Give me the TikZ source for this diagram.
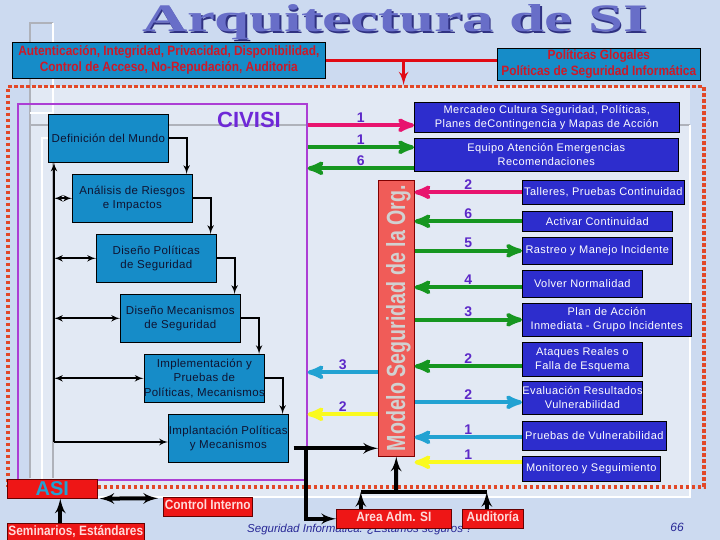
\documentclass[tikz,border=0pt]{standalone}
\usepackage{fontspec}
\setmainfont{Liberation Sans}
\newfontfamily\titlefont{Liberation Serif}
\usetikzlibrary{arrows, positioning}

\definecolor{bgblue}{RGB}{204,218,240}
\definecolor{bglight}{RGB}{226,233,244}
\definecolor{tealbox}{RGB}{22,140,200}
\definecolor{boxnavy}{RGB}{45,45,205}
\definecolor{boxred}{RGB}{238,22,22}
\definecolor{modelred}{RGB}{240,92,88}
\definecolor{dotred}{RGB}{226,72,40}
\definecolor{civpurple}{RGB}{172,62,212}
\definecolor{civtitle}{RGB}{110,40,215}
\definecolor{numpurple}{RGB}{92,40,200}
\definecolor{lnmagenta}{RGB}{232,20,110}
\definecolor{lngreen}{RGB}{22,150,32}
\definecolor{lnteal}{RGB}{34,162,210}
\definecolor{lnyellow}{RGB}{250,250,30}
\definecolor{lnred}{RGB}{225,10,20}
\definecolor{topred}{RGB}{205,25,40}
\definecolor{pinktxt}{RGB}{255,218,218}
\definecolor{civtext}{RGB}{15,20,50}
\definecolor{titleblue}{RGB}{104,110,200}
\definecolor{titledark}{RGB}{48,50,130}
\definecolor{footblue}{RGB}{40,40,150}
\definecolor{frgray}{RGB}{175,178,186}

\newcommand{\narrowtxt}[2][0.88]{\scalebox{#1}[1]{\begin{tabular}{@{}c@{}}#2\end{tabular}}}

\tikzset{node distance=60pt, % CIVISI boxes step down by this much
every node/.style={inner sep=0pt},
civbox/.style={ % boxes of the CIVISI cycle
draw=black, semithick, fill=tealbox, text=civtext,
minimum width=120pt, minimum height=48pt, align=center,
font=\fontsize{11.5}{14.5}\selectfont\addfontfeature{LetterSpace=3}},
navybox/.style={ % boxes of the org. model
draw=black, semithick, fill=boxnavy, text=white, align=center,
anchor=north west, font=\fontsize{11}{14}\selectfont\addfontfeature{LetterSpace=4}},
topbox/.style={draw=black, semithick, fill=tealbox, text=topred,
anchor=north west, font=\fontsize{13.5}{16}\bfseries},
redbox/.style={draw=black!60!red, semithick, fill=boxred, text=pinktxt,
anchor=north west, font=\fontsize{13.5}{14}\bfseries},
colarr/.style={line width=4pt, >=stealth'},
mgarr/.style={colarr, draw=lnmagenta},
grarr/.style={colarr, draw=lngreen},
tlarr/.style={colarr, draw=lnteal},
ylarr/.style={colarr, draw=lnyellow},
thinblk/.style={line width=2pt, >=latex'},
thkblk/.style={line width=4pt, >=latex'},
redline/.style={line width=3.5pt, draw=lnred, >=latex'},
numlbl/.style={above=1pt, font=\fontsize{14}{14}\bfseries, text=numpurple},
frline/.style={line width=2.5pt}}

\begin{document}
\begin{tikzpicture}[x=1pt, y=-1pt]

    \fill[bgblue] (0,0) rectangle (720,540);
    \useasboundingbox (0,0) rectangle (720,540);
    \fill[bglight] (30,86) rectangle (690,497);

    % template frame lines
    \draw[frline, frgray] (30,478) -- (30,23) -- (53,23);
    \draw[frline, white] (53,23) -- (53,113) -- (30,113);
    \draw[frline, frgray] (30,125) -- (690,125);
    \draw[frline, white] (690,125) -- (690,497) -- (42,497) -- (42,138) -- (48,138);
    \draw[frline, frgray] (53,162) -- (53,478);

    \node[draw=dotred, line width=3.5pt, dash pattern=on 3.5pt off 2.5pt, anchor=north west,
          minimum width=696pt, minimum height=400pt] (outer) at (6,85) {};
    \node[draw=civpurple, line width=1.6pt, anchor=north west,
          minimum width=289pt, minimum height=376pt] (civframe) at (17,103) {};

    % title
    \node[anchor=base, text=titledark] (titleshadow) at (396.5,33.5)
        {\resizebox{505pt}{27pt}{\titlefont\bfseries Arquitectura de SI}};
    \node[anchor=base, text=titleblue] (title) at (395,32)
        {\resizebox{505pt}{27pt}{\titlefont\bfseries Arquitectura de SI}};

    \node[topbox, minimum width=313pt, minimum height=36pt] (auth) at (12,42)
        {\narrowtxt{Autenticación, Integridad, Privacidad, Disponibilidad,\\ Control de Acceso, No-Repudación, Auditoria}};
    \node[topbox, minimum width=203pt, minimum height=30pt] (pol) at (497,48)
        {\narrowtxt{Políticas Glogales\\ Políticas de Seguridad Informática}};

    \coordinate (redjoin) at ([xshift=78pt]auth.east);
    \draw[redline] (auth.east) -- (auth.east -| pol.west);
    \draw[redline,->] (redjoin) -- (redjoin |- outer.north);

    % CIVISI
    \node[font=\fontsize{22}{22}\bfseries, text=civtitle] (civlbl) at (249,120) {CIVISI};
    \node[civbox, anchor=north west] (def) at (48,114) {Definición del Mundo};
    \node[civbox, below of=def, xshift=24pt] (ana) {Análisis de Riesgos\\e Impactos};
    \node[civbox, below of=ana, xshift=24pt] (dpol) {Diseño Políticas\\de Seguridad};
    \node[civbox, below of=dpol, xshift=24pt] (dmec) {Diseño Mecanismos\\de Seguridad};
    \node[civbox, below of=dmec, xshift=24pt] (impl) {Implementación y\\Pruebas de\\Políticas, Mecanismos};
    \node[civbox, below of=impl, xshift=24pt] (ipl) {Implantación Políticas\\y Mecanismos};

    \draw[thinblk,->] (def.east) -| ([xshift=-6pt]ana.north east);
    \draw[thinblk,->] (ana.east) -| ([xshift=-6pt]dpol.north east);
    \draw[thinblk,->] (dpol.east) -| ([xshift=-6pt]dmec.north east);
    \draw[thinblk,->] (dmec.east) -| ([xshift=-6pt]impl.north east);
    \draw[thinblk,->] (impl.east) -| ([xshift=-6pt]ipl.north east);

    \coordinate (bus) at (54,442);
    \draw[thinblk,->] (bus) -- (bus |- def.south);
    \draw[thinblk,->] (bus) -- (bus -| ipl.west);
    \draw[thinblk,<->] (bus |- ana.west) -- (ana.west);
    \draw[thinblk,<->] (bus |- dpol.west) -- (dpol.west);
    \draw[thinblk,<->] (bus |- dmec.west) -- (dmec.west);
    \draw[thinblk,<->] (bus |- impl.west) -- (impl.west);

    % Modelo de seguridad
    \node[draw=black!50!red, semithick, fill=modelred, anchor=north west,
          minimum width=36pt, minimum height=276pt] (model) at (378,180) {};
    \node[text=black!18, font=\bfseries] (modellbl) at ([xshift=2pt]model.center)
        {\rotatebox{90}{\resizebox{266pt}{19pt}{Modelo Seguridad de la Org.}}};

    \node[navybox, minimum width=265pt, minimum height=30pt] (merc) at (414,102)
        {Mercadeo Cultura Seguridad, Políticas,\\Planes deContingencia y Mapas de Acción};
    \node[navybox, minimum width=264pt, minimum height=33pt] (equ) at (414,138)
        {Equipo Atención Emergencias\\Recomendaciones};

    \node[navybox, minimum width=162pt, minimum height=24pt] (tal) at (522,180) {Talleres, Pruebas Continuidad};
    \node[navybox, minimum width=150pt, minimum height=20pt] (act) at (522,211) {Activar Continuidad};
    \node[navybox, minimum width=150pt, minimum height=27pt] (ras) at (522,237) {Rastreo y Manejo Incidente};
    \node[navybox, minimum width=120pt, minimum height=27pt] (vol) at (522,270) {Volver Normalidad};
    \node[navybox, minimum width=169pt, minimum height=33pt] (pla) at (522,303) {Plan de Acción\\Inmediata - Grupo Incidentes};
    \node[navybox, minimum width=120pt, minimum height=34pt] (ata) at (522,342) {Ataques Reales o\\Falla de Esquema};
    \node[navybox, minimum width=120pt, minimum height=33pt] (eva) at (522,381) {Evaluación Resultados\\Vulnerabilidad};
    \node[navybox, minimum width=144pt, minimum height=29pt] (pru) at (522,421) {Pruebas de Vulnerabilidad};
    \node[navybox, minimum width=138pt, minimum height=25pt] (mon) at (522,456) {Monitoreo y Seguimiento};

    \draw[mgarr,<-] ([yshift=-8pt]merc.west) coordinate (mercin) -- (mercin -| civframe.east) node[numlbl, midway] {1};
    \draw[grarr,<-] ([yshift=7.5pt]equ.west) coordinate (equin) -- (equin -| civframe.east) node[numlbl, midway] {1};
    \draw[grarr,->] ([yshift=-13.5pt]equ.west) coordinate (equout) -- (equout -| civframe.east) node[numlbl, midway] {6};
    \draw[tlarr,->] ([yshift=-54pt]model.west) coordinate (mod3) -- (mod3 -| civframe.east) node[numlbl, midway] {3};
    \draw[ylarr,->] ([yshift=-96pt]model.west) coordinate (mod2) -- (mod2 -| civframe.east) node[numlbl, midway] {2};

    \draw[mgarr,->] (tal.west) -- (tal.west -| model.east) node[numlbl, midway] {2};
    \draw[grarr,->] (act.west) -- (act.west -| model.east) node[numlbl, midway] {6};
    \draw[grarr,<-] (ras.west) -- (ras.west -| model.east) node[numlbl, midway] {5};
    \draw[grarr,->] ([yshift=-3.5pt]vol.west) coordinate (volin) -- (volin -| model.east) node[numlbl, midway] {4};
    \draw[grarr,<-] (pla.west) -- (pla.west -| model.east) node[numlbl, midway] {3};
    \draw[grarr,->] ([yshift=-7pt]ata.west) coordinate (atain) -- (atain -| model.east) node[numlbl, midway] {2};
    \draw[tlarr,<-] ([yshift=-4.5pt]eva.west) coordinate (evaout) -- (evaout -| model.east) node[numlbl, midway] {2};
    \draw[tlarr,->] ([yshift=-1.5pt]pru.west) coordinate (pruin) -- (pruin -| model.east) node[numlbl, midway] {1};
    \draw[ylarr,->] ([yshift=6.5pt]mon.west) coordinate (monin) -- (monin -| model.east) node[numlbl, midway] {1};

    % bottom row
    \node[font=\fontsize{11.5}{12}\itshape, text=footblue, anchor=base west] (foot) at (247,532)
        {Seguridad Informática: ¿Estamos seguros ?};
    \node[font=\fontsize{12}{12}\itshape, text=footblue] (pgnum) at (677,527) {66};

    \node[redbox, minimum width=90pt, minimum height=19pt, text=lnteal, font=\fontsize{20}{20}\bfseries] (asi) at (7,479) {ASI};
    \node[redbox, minimum width=89pt, minimum height=19pt] (ctrl) at (163,497) {\narrowtxt{Control Interno}};
    \node[redbox, minimum width=137pt, minimum height=19pt] (sem) at (7,523) {\narrowtxt{Seminarios, Estándares}};
    \node[redbox, minimum width=115pt, minimum height=19pt] (area) at (336,509) {\narrowtxt{Area Adm. SI}};
    \node[redbox, minimum width=61pt, minimum height=19pt] (aud) at (462,509) {\narrowtxt{Auditoría}};

    \draw[thkblk,<->] ([xshift=2pt]asi.south east) -- ([xshift=-5pt,yshift=8.5pt]ctrl.west);
    \draw[thkblk,->] ([xshift=-15.5pt]sem.north) -- ([xshift=8pt]asi.south);

    \coordinate (split) at ([xshift=17pt,yshift=-10pt]ipl.east);
    \draw[thkblk,->] ([xshift=5pt,yshift=-10pt]ipl.east) -- (split -| model.west);
    \draw[thkblk,->] (split) |- (area.west);

    \coordinate (admbus) at (396,492);
    \coordinate (areaup) at ([xshift=-33pt]area.north);
    \coordinate (audup) at ([xshift=-6pt]aud.north);
    \draw[thkblk,->] (admbus) -- (model.south);
    \draw[thkblk,->] (areaup) -- (areaup |- admbus);
    \draw[thkblk,->] (audup) -- (audup |- admbus);
    \draw[thkblk] (areaup |- admbus) -- (audup |- admbus);

\end{tikzpicture}
\end{document}
